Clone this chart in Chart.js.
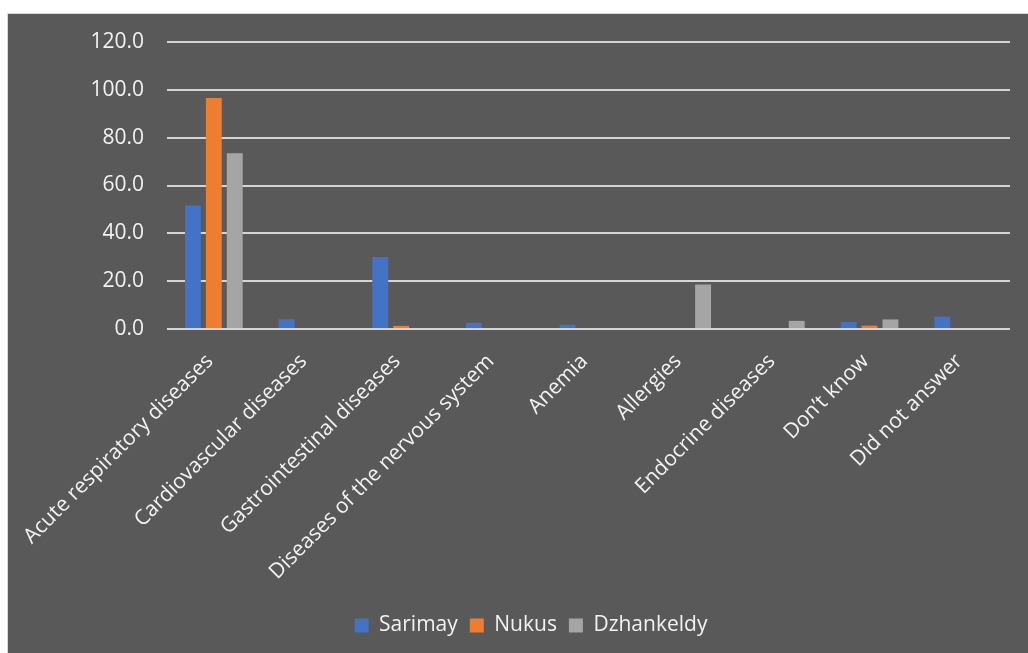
<!DOCTYPE html>
<html>
<head>
<meta charset="utf-8">
<script src="https://cdn.jsdelivr.net/npm/chart.js@4/dist/chart.umd.min.js"></script>
<style>
  html, body { margin: 0; padding: 0; background: #fff; }
  #panel {
    position: absolute; left: 7px; top: 13px; width: 1020px; height: 639px;
    background: #595959; border-left: 1px solid #d9d9d9; border-top: 1px solid #d9d9d9;
  }
  #chart { display: block; }
</style>
</head>
<body>
<div id="panel"><canvas id="chart" width="1020" height="639"></canvas></div>
<script>
const categories = [
  'Acute respiratory diseases',
  'Cardiovascular diseases',
  'Gastrointestinal diseases',
  'Diseases of the nervous system',
  'Anemia',
  'Allergies',
  'Endocrine diseases',
  'Don\u2019t know',
  'Did not answer'
];
const sarimay    = [51.6, 4.1, 30.1, 2.6, 1.8, 0, 0, 2.9, 5.2];
const nukus      = [96.6, 0, 1.3, 0, 0, 0, 0, 1.4, 0];
const dzhankeldy = [73.5, 0, 0, 0, 0, 18.6, 3.4, 4.0, 0];

const textColor = '#f2f2f2';
const fontFamily = '"Open Sans", sans-serif';

function bars(label, data, color) {
  return {
    label, data,
    backgroundColor: color,
    borderWidth: 0,
    categoryPercentage: 0.67,
    barPercentage: 0.76
  };
}

new Chart(document.getElementById('chart'), {
  type: 'bar',
  data: {
    labels: categories,
    datasets: [
      bars('Sarimay', sarimay, '#4472C4'),
      bars('Nukus', nukus, '#ED7D31'),
      bars('Dzhankeldy', dzhankeldy, '#A5A5A5')
    ]
  },
  options: {
    responsive: false,
    animation: false,
    layout: { padding: { top: 28, left: 44, right: 18, bottom: 7 } },
    scales: {
      x: {
        grid: { display: false },
        border: { display: false },
        ticks: {
          color: textColor, font: { family: fontFamily, size: 21 },
          minRotation: 45, maxRotation: 45, autoSkip: false,
          padding: 12, labelOffset: -4
        },
        afterFit(scale) {
          scale.height = 274;
          scale.paddingLeft = 0;
          scale.paddingRight = 0;
        }
      },
      y: {
        min: 0, max: 120,
        grid: { color: '#d4d4d4', lineWidth: 2, drawTicks: false },
        border: { display: false },
        ticks: {
          stepSize: 20, padding: 23,
          color: textColor, font: { family: fontFamily, size: 21 },
          callback: v => v.toFixed(1)
        },
        afterFit(scale) {
          scale.width = 115;
          scale.paddingTop = 0;
          scale.paddingBottom = 0;
        }
      }
    },
    plugins: {
      legend: {
        position: 'bottom',
        labels: {
          color: textColor, font: { family: fontFamily, size: 21 },
          boxWidth: 14, boxHeight: 14, padding: 12
        }
      },
      tooltip: { enabled: false }
    }
  }
});
</script>
</body>
</html>
